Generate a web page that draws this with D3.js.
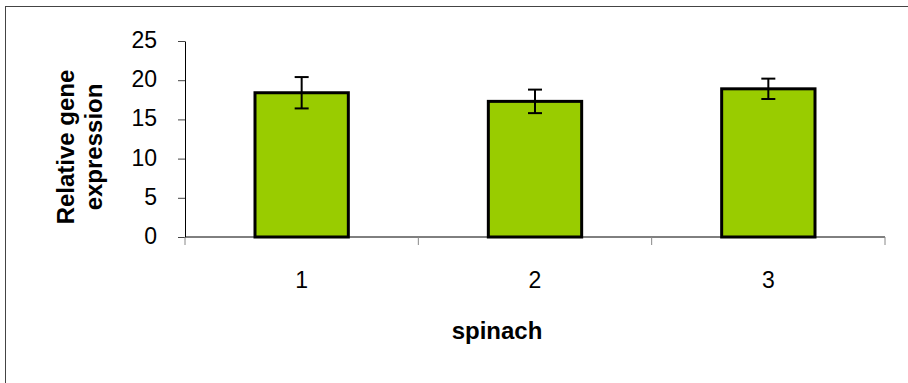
<!DOCTYPE html>
<html><head><meta charset="utf-8">
<script src="https://cdn.jsdelivr.net/npm/d3@7"></script>
<style>body{margin:0;background:#fff}svg{display:block}</style>
</head><body><svg id="c" width="908" height="383"></svg>
<script>
const categories = ["1","2","3"];
const values = [18.4, 17.3, 18.9];
const errors = [2.0, 1.5, 1.3];
const yTicks = [0,5,10,15,20,25];
const xTitle = "spinach";
const yTitle = ["Relative gene","expression"];

const svg = d3.select("#c");
svg.append("rect").attr("x",5.5).attr("y",6.5).attr("width",920).attr("height",400)
  .attr("fill","none").attr("stroke","#444").attr("stroke-width",1);

const L=185,R=885,T=41,B=237;
const x = d3.scaleBand().domain(categories).range([L,R]).paddingInner(0.6).paddingOuter(0.3);
const xb = d3.scaleBand().domain(categories).range([L,R]);
const y = d3.scaleLinear().domain([0,25]).range([B,T]);
const font = "Liberation Sans, Arial, sans-serif";

// y axis
const ya = svg.append("g").attr("transform",`translate(${L},0)`)
  .call(d3.axisLeft(y).tickValues(yTicks).tickSize(7).tickPadding(21).tickSizeOuter(0));
ya.select(".domain").attr("stroke","#000");
ya.selectAll(".tick line").attr("stroke","#444");
ya.selectAll("text").attr("font-family",font).attr("font-size",23).attr("fill","#000").attr("dy","0.28em");

// bars
svg.selectAll("rect.bar").data(values).enter().append("rect").attr("class","bar")
  .attr("x",(d,i)=>x(categories[i])).attr("width",x.bandwidth())
  .attr("y",d=>y(d)).attr("height",d=>B-y(d))
  .attr("fill","#99CC00").attr("stroke","#000").attr("stroke-width",3);

// x axis
const xa = svg.append("g").attr("transform",`translate(0,${B})`);
xa.append("line").attr("x1",L).attr("x2",R).attr("stroke","#000");
const xt = [L, ...categories.map(c=>xb(c)+xb.bandwidth())];
xa.selectAll("line.t").data(xt).enter().append("line").attr("class","t")
  .attr("x1",d=>d).attr("x2",d=>d).attr("y1",0).attr("y2",8).attr("stroke","#888");
xa.selectAll("text").data(categories).enter().append("text")
  .attr("x",c=>xb(c)+xb.bandwidth()/2).attr("y",51).attr("text-anchor","middle")
  .attr("font-family",font).attr("font-size",23).text(c=>c);

// error bars
const eg = svg.append("g").attr("stroke","#000").attr("stroke-width",2);
values.forEach((v,i)=>{
  const cx = x(categories[i])+x.bandwidth()/2;
  eg.append("line").attr("x1",cx).attr("x2",cx).attr("y1",y(v+errors[i])).attr("y2",y(v-errors[i]));
  [v+errors[i], v-errors[i]].forEach(e=>eg.append("line").attr("x1",cx-7).attr("x2",cx+7).attr("y1",y(e)).attr("y2",y(e)));
});

// titles
svg.append("text").attr("x",497).attr("y",339).attr("text-anchor","middle")
  .attr("font-family",font).attr("font-size",24).attr("font-weight","bold").text(xTitle);
const yt = svg.append("text").attr("transform","translate(0,147) rotate(-90)")
  .attr("text-anchor","middle").attr("font-family",font).attr("font-size",24).attr("font-weight","bold");
yTitle.forEach((t,i)=>yt.append("tspan").attr("x",0).attr("y",74+i*27.5).text(t));
</script></body></html>
